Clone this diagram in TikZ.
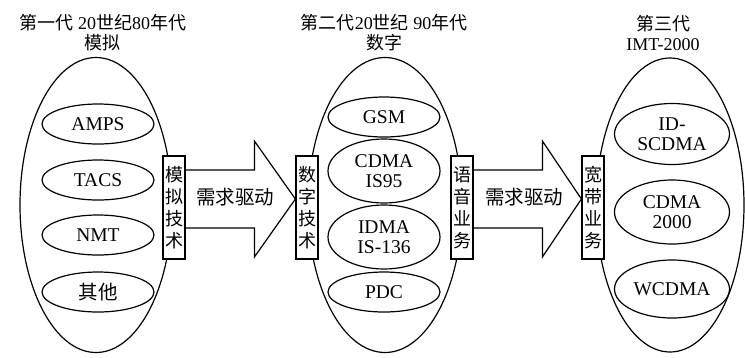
\documentclass[tikz,border=0pt]{standalone}
\usepackage{fontspec}
\setmainfont{Liberation Serif}
\newfontfamily\cjk{Noto Sans CJK SC}
\usetikzlibrary{shapes.geometric,calc}
\begin{document}
\begin{tikzpicture}[x=1pt,y=-1pt,line width=1.2pt,
  big/.style={draw,ellipse,inner sep=0pt,minimum width=152pt,minimum height=295pt},
  small/.style={draw,ellipse,inner sep=0pt,minimum width=112pt,minimum height=40pt,
     align=center,font=\fontsize{19.5}{20}\selectfont},
  tall/.style={small,minimum height=64pt},
  vbox/.style={draw,fill=white,rectangle,inner sep=0pt,minimum width=22pt,minimum height=103pt,
     align=center,font=\fontsize{18}{22}\selectfont\cjk},
  title/.style={align=center,font=\fontsize{18}{20}\selectfont},
  blk/.style={draw,fill=white,line join=miter},
  lbl/.style={font=\fontsize{19.5}{20}\selectfont\cjk}]
\useasboundingbox (0,0) rectangle (745,357);
% titles
\node[title] (t1) at (103,33) {{\cjk 第一代} 20{\cjk 世纪}80{\cjk 年代}\\{\cjk 模拟}};
\node[title] (t2) at (384,33) {{\cjk 第二代}20{\cjk 世纪} 90{\cjk 年代}\\{\cjk 数字}};
\node[title] (t3) at (663,33) {{\cjk 第三代}\\IMT-2000};
% big ellipses
\node[big] (g1) at (96,205) {};
\node[big,minimum width=154pt] (g2) at (385,205) {};
\node[big,minimum width=148pt,minimum height=294pt] (g3) at (670,205) {};
% small ellipses
\node[small] (amps) at (98,124) {AMPS};
\node[small] (tacs) at (98,180) {TACS};
\node[small] (nmt) at (98,235) {NMT};
\node[small] (other) at (98,292) {\cjk 其他};
\node[small] (gsm) at (384,117) {GSM};
\node[tall] (cdma) at (384,171) {CDMA\\IS95};
\node[tall] (idma) at (384,237) {IDMA\\IS-136};
\node[small] (pdc) at (384,292) {PDC};
\node[tall,minimum width=115pt,minimum height=61pt] (scdma) at (672,134) {ID-\\SCDMA};
\node[tall,minimum width=115pt] (c2000) at (672,212) {CDMA\\2000};
\node[small,minimum width=115pt,minimum height=58pt] (wcdma) at (672,289) {WCDMA};
% boxes (positions)
\coordinate (m) at (0,199);
\node[vbox] (b1) at (174,207.5) {模\\拟\\技\\术};
\node[vbox] (b2) at (307,207.5) {数\\字\\技\\术};
\node[vbox] (b3) at (462,207.5) {语\\音\\业\\务};
\node[vbox] (b4) at (593,207.5) {宽\\带\\业\\务};
% block arrows
\draw[blk] ($(b1.east|-m)+(0,-29)$) -- ($(b2.west|-m)+(-41,-29)$) -- ($(b2.west|-m)+(-41,-58)$)
  -- (b2.west|-m) -- ($(b2.west|-m)+(-41,58)$) -- ($(b2.west|-m)+(-41,29)$) -- ($(b1.east|-m)+(0,29)$);
\draw[blk] ($(b3.east|-m)+(0,-29)$) -- ($(b4.west|-m)+(-39,-29)$) -- ($(b4.west|-m)+(-39,-58)$)
  -- (b4.west|-m) -- ($(b4.west|-m)+(-39,58)$) -- ($(b4.west|-m)+(-39,29)$) -- ($(b3.east|-m)+(0,29)$);
\node[lbl] (l1) at (235,197) {需求驱动};
\node[lbl] (l2) at (524,197) {需求驱动};
% redraw boxes on top
\node[vbox] at (b1) {模\\拟\\技\\术};
\node[vbox] at (b2) {数\\字\\技\\术};
\node[vbox] at (b3) {语\\音\\业\\务};
\node[vbox] at (b4) {宽\\带\\业\\务};
\end{tikzpicture}
\end{document}
